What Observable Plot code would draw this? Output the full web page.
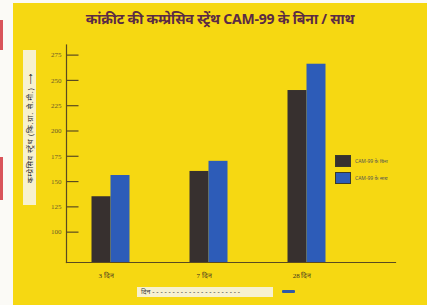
<!DOCTYPE html>
<html>
<head>
<meta charset="utf-8">
<script src="https://cdn.jsdelivr.net/npm/d3@7"></script>
<script src="https://cdn.jsdelivr.net/npm/@observablehq/plot@0.6"></script>
<style>
  html, body { margin: 0; padding: 0; background: #fbfaf6; }
  #wrap { position: relative; width: 427px; height: 305px; overflow: hidden; background: #fbfaf6; }
  .red { position: absolute; left: 0; width: 3px; background: #d9545a; }
  #panel { position: absolute; left: 13px; top: 3px; right: 0; bottom: 0; background: #f6d812; }
  #title { position: absolute; left: 13px; right: 0; top: 9px; text-align: center;
           font: bold 14px "Noto Sans", "DejaVu Sans", sans-serif; color: #5a2a45; letter-spacing: -0.2px; }
  #chart { position: absolute; left: 0; top: 0; }
  #ytitle { position: absolute; left: 23px; top: 50px; width: 13px; height: 155px; background: #f7f1cf; }
  #ytitle span { position: absolute; left: 50%; top: 50%; white-space: nowrap;
                 transform: translate(-50%, -50%) rotate(-90deg);
                 font: 7.5px "Noto Sans", "DejaVu Sans", sans-serif; color: #2a2a2a; letter-spacing: 0.8px; }
  #xtitle { position: absolute; left: 137px; top: 287px; width: 136px; height: 10px; background: #f7f1cf;
            font: 7px "Noto Sans", "DejaVu Sans", sans-serif; color: #444; line-height: 10px; padding-left: 4px; box-sizing: border-box; white-space: nowrap; overflow: hidden; }
  #xarrow { position: absolute; left: 282px; top: 290px; width: 13px; height: 3px; background: #2f5aa8; border-radius: 1px; }
  #legend { position: absolute; left: 335px; top: 155px; font: 5px "Noto Sans", "DejaVu Sans", sans-serif; color: #555; }
  .li { display: flex; align-items: center; height: 12px; margin-bottom: 5px; }
  .sw { width: 16px; height: 12px; margin-right: 4px; box-sizing: border-box; border: 1px solid #3a3a2a; }
</style>
</head>
<body>
<div id="wrap">
  <div class="red" style="top:20px;height:30px"></div>
  <div class="red" style="top:157px;height:43px"></div>
  <div id="panel"></div>
  <div id="chart"></div>
  <div id="title">कांक्रीट की कम्प्रेसिव स्ट्रेंथ CAM-99 के बिना / साथ</div>
  <div id="ytitle"><span>कम्प्रेसिव स्ट्रेंथ (कि.ग्रा. से.मी.) ⟶</span></div>
  <div id="xtitle">दिन - - - - - - - - - - - - - - - - - - - - - -</div>
  <div id="xarrow"></div>
  <div id="legend"></div>
</div>
<script>
const categories = ["3 दिन", "7 दिन", "28 दिन"];
const series = ["CAM-99 के बिना", "CAM-99 के साथ"];
const withoutCAM = [135, 160, 240];
const withCAM = [156, 170, 266];
const yTicks = [100, 125, 150, 175, 200, 225, 250, 275];
const colors = ["#37302f", "#2d5cb8"];

const rows = [];
categories.forEach((c, i) => {
  rows.push({day: c, series: series[0], value: withoutCAM[i]});
  rows.push({day: c, series: series[1], value: withCAM[i]});
});

// inward-pointing tick glyph for the y axis
const tickSymbol = { draw(context) { context.moveTo(0, 0); context.lineTo(12, 0); } };

const chart = Plot.plot({
  width: 427,
  height: 305,
  marginLeft: 66,
  marginRight: 32,
  marginTop: 44.5,
  marginBottom: 43,
  style: { background: "transparent", overflow: "visible" },
  x: { domain: categories, range: [66, 352], paddingInner: 0.806, paddingOuter: 0.362, label: null },
  y: { domain: [70, 285], label: null },
  color: { domain: series, range: colors },
  marks: [
    Plot.barY(rows.filter(d => d.series === series[0]), { x: "day", y1: 70, y2: "value", fill: "series", dx: -9.5 }),
    Plot.barY(rows.filter(d => d.series === series[1]), { x: "day", y1: 70, y2: "value", fill: "series", dx: 9.5 }),
    Plot.axisY(yTicks, { tickSize: 0, tickPadding: 5, fontSize: 7, fontFamily: "Liberation Serif, serif", fill: "#6b5a2a", label: null }),
    Plot.axisX({ tickSize: 0, tickPadding: 11, fontSize: 7, fontFamily: "Liberation Serif, serif", fill: "#3a3020", label: null, dx: -5 }),
    Plot.frame({ anchor: "left", stroke: "#5a4a20", strokeWidth: 1.2 }),
    Plot.frame({ anchor: "bottom", stroke: "#5a4a20", strokeWidth: 1.2 }),
    Plot.dot(yTicks, { y: d => d, frameAnchor: "left", symbol: tickSymbol, stroke: "#5a4a20", strokeWidth: 1.2, r: 3 })
  ]
});
document.getElementById("chart").appendChild(chart);

const legend = document.getElementById("legend");
series.forEach((s, i) => {
  const row = document.createElement("div");
  row.className = "li";
  const sw = document.createElement("div");
  sw.className = "sw";
  sw.style.background = colors[i];
  const t = document.createElement("span");
  t.textContent = s;
  row.appendChild(sw);
  row.appendChild(t);
  legend.appendChild(row);
});
</script>
</body>
</html>
